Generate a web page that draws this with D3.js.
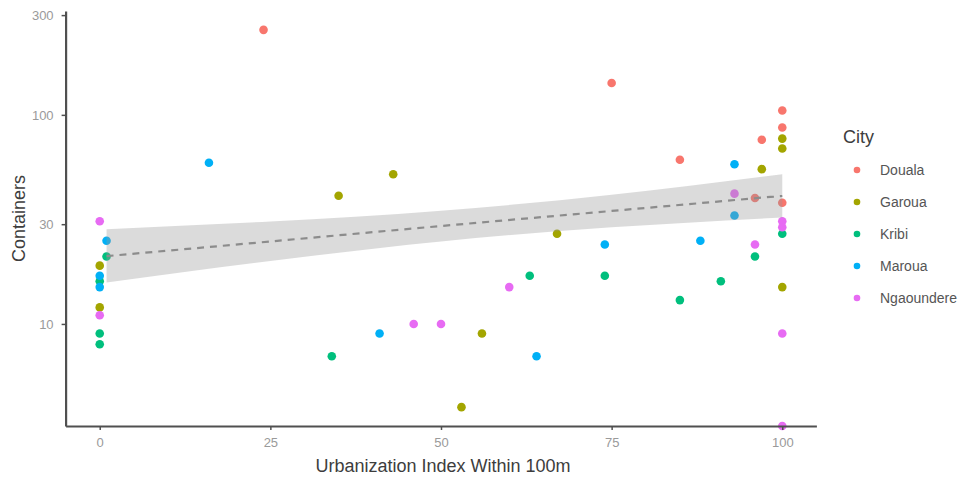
<!DOCTYPE html>
<html>
<head>
<meta charset="utf-8">
<script src="https://cdn.jsdelivr.net/npm/d3@7"></script>
<style>
  html, body { margin: 0; padding: 0; background: #ffffff; }
  svg { display: block; font-family: "Liberation Sans", Arial, sans-serif; }
</style>
</head>
<body>
<svg id="chart" width="964" height="480"></svg>
<script>
// Container counts by urbanization index, one array per city
const cities = ["Douala", "Garoua", "Kribi", "Maroua", "Ngaoundere"];
const cityColors = ["#F8766D", "#A3A500", "#00BF7D", "#00B0F6", "#E76BF3"];

const doualaUrban      = [24, 75, 85, 97, 96, 100, 100, 100];
const doualaContainers = [255, 142, 61, 76, 40, 105, 87, 38];

const garouaUrban      = [0, 0, 35, 43, 53, 56, 67, 97, 100, 100, 100];
const garouaContainers = [19, 12, 41, 52, 4, 9, 27, 55, 77, 69, 15];

const kribiUrban       = [1, 0, 0, 0, 34, 63, 74, 85, 91, 96, 100];
const kribiContainers  = [21, 16, 9, 8, 7, 17, 17, 13, 16, 21, 27];

const marouaUrban      = [1, 0, 0, 16, 41, 64, 74, 88, 93, 93];
const marouaContainers = [25, 17, 15, 59, 9, 7, 24, 25, 58, 33];

const ngaoundereUrban      = [0, 0, 46, 50, 60, 93, 96, 100, 100, 100, 100];
const ngaoundereContainers = [31, 11, 10, 10, 15, 42, 24, 31, 29, 9, 0];

// Linear fit (log scale) with its confidence band, sampled along x
const fitX     = [1, 25, 50, 75, 100];
const fitMid   = [21.1, 24.8, 29.4, 34.7, 41.0];
const fitLower = [15.8, 20.0, 24.8, 29.0, 32.3];
const fitUpper = [28.4, 30.9, 34.8, 41.5, 52.0];

const yTicks = [10, 30, 100, 300];
const xTicks = [0, 25, 50, 75, 100];

const xTitle = "Urbanization Index Within 100m";
const yTitle = "Containers";
const legendTitle = "City";

const seriesUrban = [doualaUrban, garouaUrban, kribiUrban, marouaUrban, ngaoundereUrban];
const seriesContainers = [doualaContainers, garouaContainers, kribiContainers, marouaContainers, ngaoundereContainers];

const points = [];
cities.forEach((c, i) => {
  seriesUrban[i].forEach((u, j) => points.push({ city: c, urban: u, containers: seriesContainers[i][j] }));
});

const svg = d3.select("#chart");
const panel = { left: 65.6, right: 816.4, top: 11, bottom: 426 };

// x: 5% expansion on each side of the data range
const xMin = d3.min(points, d => d.urban), xMax = d3.max(points, d => d.urban);
const xPad = (xMax - xMin) * 0.05;
const x = d3.scaleLinear().domain([xMin - xPad, xMax + xPad]).range([panel.left, panel.right]);

// y: log10 scale, 5% expansion in log space; zero counts sit on the lower edge
const positive = points.filter(d => d.containers > 0).map(d => Math.log10(d.containers));
const lMin = d3.min(positive), lMax = d3.max(positive);
const lPad = (lMax - lMin) * 0.05;
const y = d3.scaleLog().domain([Math.pow(10, lMin - lPad), Math.pow(10, lMax + lPad)]).range([panel.bottom, panel.top]);
const yPos = v => v > 0 ? y(v) : panel.bottom;

const color = d3.scaleOrdinal().domain(cities).range(cityColors);

// points
svg.append("g").selectAll("circle").data(points).join("circle")
  .attr("cx", d => x(d.urban))
  .attr("cy", d => yPos(d.containers))
  .attr("r", 4.3)
  .attr("fill", d => color(d.city));

// confidence band and fitted line, drawn over the points
const fit = fitX.map((v, i) => ({ x: v, mid: fitMid[i], lo: fitLower[i], hi: fitUpper[i] }));
svg.append("path")
  .datum(fit)
  .attr("d", d3.area().x(d => x(d.x)).y0(d => y(d.lo)).y1(d => y(d.hi)).curve(d3.curveNatural))
  .attr("fill", "#999999")
  .attr("fill-opacity", 0.35);
svg.append("path")
  .datum(fit)
  .attr("d", d3.line().x(d => x(d.x)).y(d => y(d.mid)).curve(d3.curveNatural))
  .attr("fill", "none")
  .attr("stroke", "#8c8c8c")
  .attr("stroke-width", 2.2)
  .attr("stroke-dasharray", "7,6");

// axes
const axisColor = "#505050";
const tickColor = "#9a9a9a";

const gy = svg.append("g").attr("transform", `translate(${panel.left},0)`)
  .call(d3.axisLeft(y).tickValues(yTicks).tickFormat(d3.format("d")).tickSize(4).tickSizeOuter(0).tickPadding(8));
const gx = svg.append("g").attr("transform", `translate(0,${panel.bottom})`)
  .call(d3.axisBottom(x).tickValues(xTicks).tickFormat(d3.format("d")).tickSize(4).tickSizeOuter(0).tickPadding(8));

[gy, gx].forEach(g => {
  g.select(".domain").attr("stroke", axisColor).attr("stroke-width", 2.2);
  g.selectAll(".tick line").attr("stroke", axisColor).attr("stroke-width", 1.5);
  g.selectAll(".tick text").attr("fill", tickColor).attr("font-size", 13)
    .attr("font-family", "'Liberation Sans', Arial, sans-serif");
});

// axis titles
svg.append("text")
  .attr("x", 443).attr("y", 472)
  .attr("text-anchor", "middle").attr("font-size", 18).attr("fill", "#3d3d3d")
  .text(xTitle);
svg.append("text")
  .attr("transform", `translate(25,${(panel.top + panel.bottom) / 2}) rotate(-90)`)
  .attr("text-anchor", "middle").attr("font-size", 18).attr("fill", "#3d3d3d")
  .text(yTitle);

// legend
const legend = svg.append("g").attr("transform", "translate(833,0)");
legend.append("text").attr("x", 10).attr("y", 143).attr("font-size", 18).attr("fill", "#3d3d3d").text(legendTitle);
const items = legend.selectAll("g.item").data(cities).join("g")
  .attr("class", "item")
  .attr("transform", (d, i) => `translate(0,${170 + i * 32})`);
items.append("circle").attr("cx", 24).attr("cy", 0).attr("r", 3.3).attr("fill", d => color(d));
items.append("text").attr("x", 47).attr("y", 0).attr("dy", "0.35em")
  .attr("font-size", 14).attr("fill", "#555555").text(d => d);
</script>
</body>
</html>
